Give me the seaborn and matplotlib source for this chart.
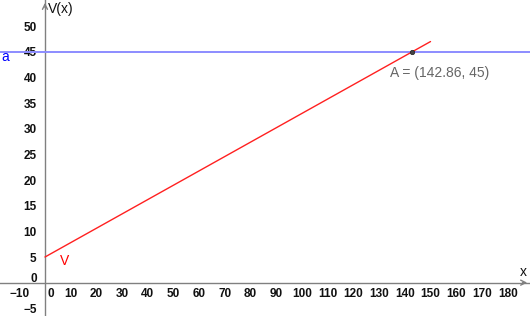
import matplotlib
matplotlib.use("Agg")
import matplotlib.pyplot as plt
import seaborn as sns
import pandas as pd
import numpy as np
from matplotlib.transforms import ScaledTranslation

sns.set_theme(style="white")
plt.rcParams['font.family'] = ['Liberation Sans', 'DejaVu Sans']

# data
v_x = [0, 150]
v_y = [5, 47]
a_value = 45
point_A = (142.86, 45)
x_ticks = [-10, 0, 10, 20, 30, 40, 50, 60, 70, 80, 90, 100, 110, 120, 130, 140, 150, 160, 170, 180]
y_ticks = [-5, 0, 5, 10, 15, 20, 25, 30, 35, 40, 45, 50]
xlim = (-17.5, 188.7)
ylim = (-6.5, 55.1)

fig = plt.figure(figsize=(5.3, 3.16), dpi=100)
ax = fig.add_axes([0, 0, 1, 1])
ax.set_xlim(*xlim)
ax.set_ylim(*ylim)

axis_col = '#808080'
# horizontal line a
df_a = pd.DataFrame({'x': list(xlim), 'y': [a_value, a_value]})
sns.lineplot(data=df_a, x='x', y='y', ax=ax, color='#8c8cff', linewidth=1.4, zorder=3)
# line V
df_v = pd.DataFrame({'x': v_x, 'y': v_y})
sns.lineplot(data=df_v, x='x', y='y', ax=ax, color='#ff2020', linewidth=1.0, zorder=4)
# point A
sns.scatterplot(x=[point_A[0]], y=[point_A[1]], ax=ax, color='#444444', s=10, zorder=5,
                edgecolor='#222222', linewidth=0.5)

# axes
for s in ['top', 'right']:
    ax.spines[s].set_visible(False)
ax.spines['left'].set_position(('data', 0))
ax.spines['bottom'].set_position(('data', 0))
for s in ['left', 'bottom']:
    ax.spines[s].set_color(axis_col)
    ax.spines[s].set_linewidth(1.0)

ax.set_xticks(x_ticks)
ax.set_yticks(y_ticks)
fmt = lambda v: ('\u2212' + str(abs(v))) if v < 0 else str(v)
ax.set_xticklabels([fmt(v) for v in x_ticks])
ax.set_yticklabels([fmt(v) for v in y_ticks])
ax.tick_params(axis='both', direction='inout', length=4, width=0.8, color=axis_col,
               labelsize=8.5, labelcolor='#111111')
for lbl in ax.get_xticklabels() + ax.get_yticklabels():
    lbl.set_fontweight('bold')
ax.tick_params(axis='x', pad=2)
ax.tick_params(axis='y', pad=4)

# offset the zero labels
for lbl in ax.get_xticklabels():
    if lbl.get_text() == '0':
        lbl.set_transform(lbl.get_transform() + ScaledTranslation(6/100, 0, fig.dpi_scale_trans))
for lbl in ax.get_yticklabels():
    if lbl.get_text() == '0':
        lbl.set_transform(lbl.get_transform() + ScaledTranslation(0, 5/100, fig.dpi_scale_trans))

# arrow heads
ax.annotate('', xy=(xlim[1], 0), xytext=(xlim[1] - 4, 0),
            arrowprops=dict(arrowstyle='->', color=axis_col, lw=1.0, mutation_scale=9))
ax.annotate('', xy=(0, ylim[1]), xytext=(0, ylim[1] - 2),
            arrowprops=dict(arrowstyle='->', color=axis_col, lw=1.0, mutation_scale=9))

# labels
ax.text(1.0, 54.8, 'V(x)', fontsize=10, color='#111111', ha='left', va='top')
ax.text(187.5, 0.8, 'x', fontsize=10, color='#111111', ha='right', va='bottom')
ax.text(-17.0, 44.0, 'a', fontsize=10, color='#0000ff', ha='left', va='center')
ax.text(6.0, 4.2, 'V', fontsize=10, color='#ff0000', ha='left', va='center')
ax.text(134.3, 40.8, 'A = (142.86, 45)', fontsize=10, color='#666666', ha='left', va='center')

ax.set_xlabel('')
ax.set_ylabel('')
fig.savefig('out.png', dpi=100)
